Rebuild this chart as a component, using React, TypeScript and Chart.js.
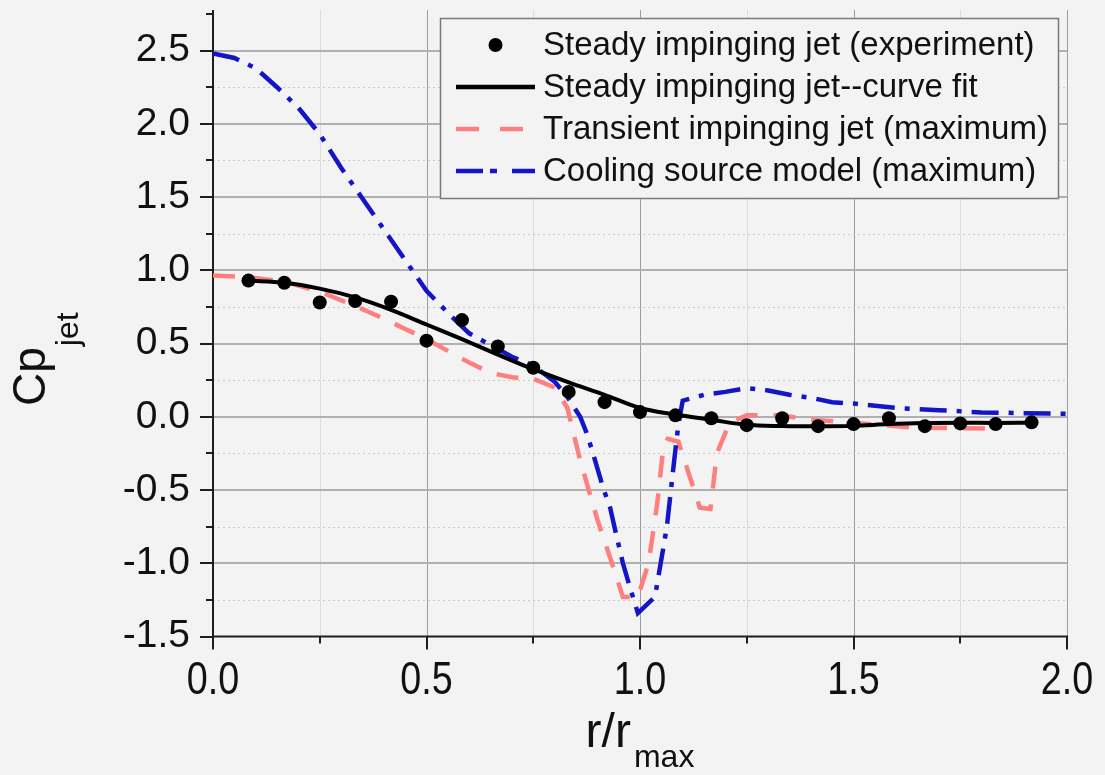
import { useEffect, useRef } from 'react';
import { Chart, registerables } from 'chart.js';

Chart.register(...registerables);

const BG = '#f3f3f3';
const SANS = "'Liberation Sans', Arial, Helvetica, sans-serif";

const X_MIN = 0;
const X_MAX = 2;
const X_STEP = 0.25;
const Y_MIN = -1.5;
const Y_MAX = 2.75;
const Y_STEP = 0.25;

const xTickLabels = ['0.0', '0.5', '1.0', '1.5', '2.0'];
const yTickLabels = ['-1.5', '-1.0', '-0.5', '0.0', '0.5', '1.0', '1.5', '2.0', '2.5'];

const legendLabels = [
  'Steady impinging jet (experiment)',
  'Steady impinging jet--curve fit',
  'Transient impinging jet (maximum)',
  'Cooling source model (maximum)',
];

// Steady impinging jet (experiment)
const expX = [0.083, 0.167, 0.25, 0.333, 0.417, 0.5, 0.583, 0.667, 0.75, 0.833, 0.917, 1.0,
  1.083, 1.167, 1.25, 1.333, 1.417, 1.5, 1.583, 1.667, 1.75, 1.833, 1.917];
const expY = [0.93, 0.915, 0.78, 0.79, 0.785, 0.52, 0.66, 0.48, 0.335, 0.17, 0.1, 0.032,
  0.01, -0.01, -0.057, -0.01, -0.064, -0.05, -0.01, -0.064, -0.045, -0.05, -0.038];

// Steady impinging jet -- curve fit
const fitX = [0.083, 0.167, 0.25, 0.333, 0.417, 0.5, 0.583, 0.667, 0.75, 0.833, 0.917, 1.0,
  1.083, 1.167, 1.25, 1.333, 1.417, 1.5, 1.583, 1.667, 1.75, 1.833, 1.917];
const fitY = [0.93, 0.915, 0.875, 0.815, 0.73, 0.63, 0.53, 0.425, 0.325, 0.235, 0.15, 0.06,
  0.015, -0.02, -0.055, -0.063, -0.065, -0.062, -0.05, -0.043, -0.04, -0.042, -0.04];

// Transient impinging jet (maximum)
const transX = [0, 0.08, 0.17, 0.25, 0.33, 0.4, 0.45, 0.5, 0.55, 0.6, 0.65, 0.7, 0.75, 0.8,
  0.83, 0.86, 0.9, 0.94, 0.96, 0.995, 1.02, 1.04, 1.055, 1.065, 1.09, 1.14, 1.165, 1.18,
  1.21, 1.25, 1.33, 1.4, 1.5, 1.58, 1.65, 1.75, 1.83];
const transY = [0.965, 0.955, 0.92, 0.855, 0.76, 0.67, 0.6, 0.53, 0.45, 0.37, 0.3, 0.27, 0.26,
  0.2, 0.06, -0.3, -0.7, -1.05, -1.23, -1.23, -1.0, -0.6, -0.2, -0.15, -0.17, -0.62, -0.63,
  -0.25, -0.04, 0.01, 0.01, -0.02, -0.04, -0.06, -0.075, -0.078, -0.08];

// Cooling source model (maximum)
const coolX = [0, 0.05, 0.1, 0.15, 0.2, 0.25, 0.3, 0.35, 0.4, 0.45, 0.5, 0.55, 0.6, 0.65, 0.7,
  0.75, 0.8, 0.83, 0.86, 0.875, 0.89, 0.913, 0.93, 0.944, 0.96, 0.975, 0.995, 1.035, 1.063,
  1.08, 1.09, 1.1, 1.15, 1.2, 1.25, 1.3, 1.35, 1.4, 1.45, 1.5, 1.6, 1.7, 1.8, 1.9, 2.0];
const coolY = [2.48, 2.45, 2.38, 2.25, 2.11, 1.93, 1.7, 1.49, 1.28, 1.07, 0.86, 0.71, 0.57, 0.49,
  0.41, 0.35, 0.24, 0.135, 0.0, -0.11, -0.25, -0.48, -0.62, -0.8, -1.0, -1.15, -1.34, -1.23,
  -0.75, -0.3, -0.05, 0.11, 0.15, 0.17, 0.195, 0.18, 0.15, 0.13, 0.1, 0.09, 0.06, 0.045, 0.03,
  0.025, 0.02];

const COL_BLACK = '#000000';
const COL_PINK = '#ff7f7f';
const COL_BLUE = '#1414c8';

const pairs = (xs: number[], ys: number[]) => xs.map((x, i) => ({ x, y: ys[i] }));

const labelFor = (labels: string[], v: number) =>
  labels.find((l) => Math.abs(parseFloat(l) - v) < 1e-6) ?? '';

const decor = {
  id: 'decor',
  beforeDraw(chart: any) {
    const { ctx, width, height } = chart;
    ctx.save();
    ctx.fillStyle = BG;
    ctx.fillRect(0, 0, width, height);
    ctx.restore();
  },
  beforeDatasetsDraw(chart: any) {
    const { ctx, chartArea: ca, scales } = chart;
    const xs = scales.x;
    const ys = scales.y;
    const line = (x1: number, y1: number, x2: number, y2: number) => {
      ctx.beginPath();
      ctx.moveTo(x1, y1);
      ctx.lineTo(x2, y2);
      ctx.stroke();
    };
    ctx.save();
    // vertical grid
    xs.ticks.forEach((t: any) => {
      if (t.value <= X_MIN + 1e-9) return;
      const major = labelFor(xTickLabels, t.value) !== '';
      const px = Math.round(xs.getPixelForValue(t.value)) + 0.5;
      ctx.setLineDash([]);
      ctx.lineWidth = 1;
      ctx.strokeStyle = major ? '#9c9c9c' : '#dcdcdc';
      line(px, ca.top - 4, px, ca.bottom);
    });
    // horizontal grid
    ys.ticks.forEach((t: any) => {
      if (t.value <= Y_MIN + 1e-9 || t.value >= Y_MAX - 1e-9) return;
      const major = labelFor(yTickLabels, t.value) !== '';
      const py = ys.getPixelForValue(t.value);
      if (major) {
        ctx.setLineDash([]);
        ctx.lineWidth = 2;
        ctx.strokeStyle = '#b0b0b0';
        line(ca.left, Math.round(py), ca.right, Math.round(py));
      } else {
        ctx.setLineDash([2, 3]);
        ctx.lineWidth = 1;
        ctx.strokeStyle = '#c8c8c8';
        line(ca.left, Math.round(py) + 0.5, ca.right, Math.round(py) + 0.5);
      }
    });
    // axes
    ctx.setLineDash([]);
    ctx.strokeStyle = '#1e1e1e';
    ctx.lineWidth = 2;
    line(ca.left, ca.top - 4, ca.left, ca.bottom + 1);
    line(ca.left - 1, ca.bottom, ca.right + 1, ca.bottom);
    // ticks
    ys.ticks.forEach((t: any) => {
      const major = labelFor(yTickLabels, t.value) !== '';
      const py = Math.round(ys.getPixelForValue(t.value));
      line(ca.left - (major ? 13 : 7), py, ca.left, py);
    });
    xs.ticks.forEach((t: any) => {
      const major = labelFor(xTickLabels, t.value) !== '';
      const px = Math.round(xs.getPixelForValue(t.value));
      line(px, ca.bottom, px, ca.bottom + (major ? 13 : 7));
    });
    ctx.restore();
  },
  afterDraw(chart: any) {
    const { ctx, chartArea: ca, scales } = chart;
    const xs = scales.x;
    ctx.save();
    ctx.fillStyle = '#111111';

    // x tick labels (condensed, as in the reference)
    ctx.font = `46px ${SANS}`;
    ctx.textAlign = 'center';
    ctx.textBaseline = 'alphabetic';
    xTickLabels.forEach((lab) => {
      const px = xs.getPixelForValue(parseFloat(lab));
      ctx.save();
      ctx.translate(px, ca.bottom + 57);
      ctx.scale(0.82, 1);
      ctx.fillText(lab, 0, 0);
      ctx.restore();
    });

    // x title: r/r_max
    ctx.textAlign = 'left';
    ctx.font = `48px ${SANS}`;
    const main = 'r/r';
    const w1 = ctx.measureText(main).width;
    ctx.font = `32px ${SANS}`;
    const sub = 'max';
    const w2 = ctx.measureText(sub).width;
    const cx = (ca.left + ca.right) / 2;
    const x0 = cx - (w1 + w2 + 3) / 2;
    ctx.font = `48px ${SANS}`;
    ctx.fillText(main, x0, 747);
    ctx.font = `32px ${SANS}`;
    ctx.fillText(sub, x0 + w1 + 3, 767);

    // y title: Cp_jet
    ctx.save();
    ctx.translate(45, 406);
    ctx.rotate(-Math.PI / 2);
    ctx.font = `46px ${SANS}`;
    const ym = 'Cp';
    const wm = ctx.measureText(ym).width;
    ctx.fillText(ym, 0, 0);
    ctx.font = `32px ${SANS}`;
    ctx.fillText('jet', wm + 1, 33);
    ctx.restore();

    // legend
    const lx = 440;
    const ly = 18;
    const lw = 618;
    const lh = 180;
    ctx.fillStyle = BG;
    ctx.fillRect(lx, ly, lw, lh);
    ctx.strokeStyle = '#7a7a7a';
    ctx.lineWidth = 1.5;
    ctx.setLineDash([]);
    ctx.strokeRect(lx + 0.5, ly + 0.5, lw, lh);
    const rows = [45, 87, 129, 171];
    const s0 = 456;
    const s1 = 535;
    ctx.fillStyle = COL_BLACK;
    ctx.beginPath();
    ctx.arc((s0 + s1) / 2, rows[0], 7, 0, Math.PI * 2);
    ctx.fill();
    const sample = (y: number, color: string, dash: number[]) => {
      ctx.strokeStyle = color;
      ctx.lineWidth = 4.5;
      ctx.lineCap = 'butt';
      ctx.setLineDash(dash);
      ctx.beginPath();
      ctx.moveTo(s0, y);
      ctx.lineTo(s1, y);
      ctx.stroke();
    };
    sample(rows[1], COL_BLACK, []);
    sample(rows[2], COL_PINK, [23, 21]);
    sample(rows[3], COL_BLUE, [27, 7, 7, 15]);
    ctx.setLineDash([]);
    ctx.fillStyle = '#111111';
    ctx.font = `33px ${SANS}`;
    ctx.textBaseline = 'middle';
    legendLabels.forEach((t, i) => ctx.fillText(t, 543, rows[i] + 1));
    ctx.restore();
  },
};

export default function App() {
  const ref = useRef<HTMLCanvasElement | null>(null);
  useEffect(() => {
    document.body.style.margin = '0';
    document.body.style.background = BG;
    const canvas = ref.current;
    if (!canvas) return;
    const chart = new Chart(canvas, {
      type: 'line',
      data: {
        datasets: [
          {
            type: 'scatter',
            label: legendLabels[0],
            data: pairs(expX, expY),
            backgroundColor: COL_BLACK,
            borderColor: COL_BLACK,
            pointRadius: 7,
            pointBorderWidth: 0,
            showLine: false,
            order: 0,
          },
          {
            label: legendLabels[1],
            data: pairs(fitX, fitY),
            borderColor: COL_BLACK,
            borderWidth: 4,
            pointRadius: 0,
            cubicInterpolationMode: 'monotone',
            fill: false,
            order: 1,
          },
          {
            label: legendLabels[3],
            data: pairs(coolX, coolY),
            borderColor: COL_BLUE,
            borderWidth: 4.5,
            borderDash: [27, 10, 5, 10],
            borderCapStyle: 'butt',
            pointRadius: 0,
            tension: 0,
            fill: false,
            order: 2,
          },
          {
            label: legendLabels[2],
            data: pairs(transX, transY),
            borderColor: COL_PINK,
            borderWidth: 4.5,
            borderDash: [22, 16],
            borderCapStyle: 'butt',
            pointRadius: 0,
            tension: 0,
            fill: false,
            order: 3,
          },
        ],
      } as any,
      options: {
        responsive: false,
        animation: false,
        events: [],
        layout: { padding: { top: 14, right: 38, left: 0, bottom: 0 } },
        plugins: { legend: { display: false }, tooltip: { enabled: false } },
        scales: {
          x: {
            type: 'linear',
            min: X_MIN,
            max: X_MAX,
            grid: { display: false, drawTicks: false },
            border: { display: false },
            ticks: {
              stepSize: X_STEP,
              autoSkip: false,
              maxRotation: 0,
              display: false,
            },
            afterFit: (s: any) => {
              s.height = 138.5;
              s.paddingLeft = 0;
              s.paddingRight = 0;
            },
          },
          y: {
            type: 'linear',
            min: Y_MIN,
            max: Y_MAX,
            grid: { display: false, drawTicks: false },
            border: { display: false },
            ticks: {
              stepSize: Y_STEP,
              autoSkip: false,
              padding: 23,
              color: '#111111',
              font: { family: SANS, size: 39 },
              callback: (v: any) => labelFor(yTickLabels, Number(v)),
            },
            afterFit: (s: any) => {
              s.width = 213;
              s.paddingTop = 0;
              s.paddingBottom = 0;
            },
          },
        },
      } as any,
      plugins: [decor],
    });
    return () => chart.destroy();
  }, []);
  return (
    <div style={{ width: 1105, height: 775, background: BG }}>
      <canvas ref={ref} width={1105} height={775} style={{ display: 'block' }} />
    </div>
  );
}
